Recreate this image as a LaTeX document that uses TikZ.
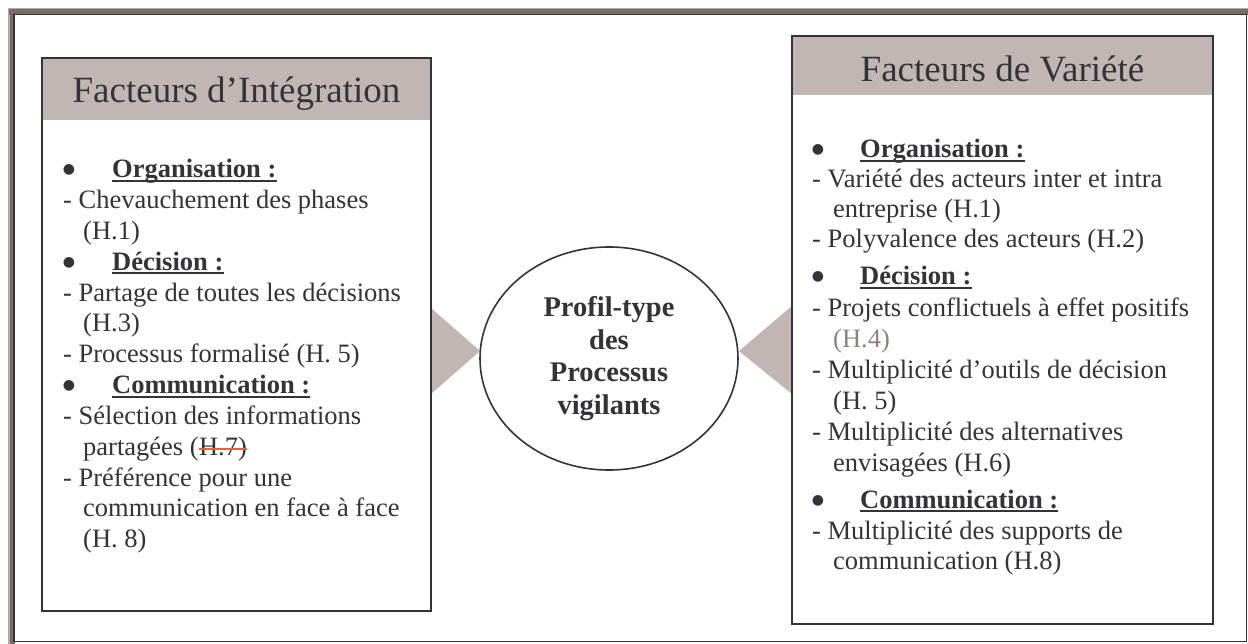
\documentclass[tikz,border=0pt]{standalone}
\usepackage{fontspec}
\setmainfont{Liberation Serif}
\newfontfamily\bulfont{DejaVu Sans}
\usetikzlibrary{shapes.geometric}
\definecolor{frameb}{HTML}{7B6B67}
\definecolor{framel}{HTML}{B5AAA7}
\definecolor{taupe}{HTML}{C1B6B3}
\definecolor{ink}{HTML}{343438}
\definecolor{hgray}{HTML}{8E8280}
\definecolor{strk}{HTML}{F0602E}
\begin{document}
\begin{tikzpicture}[x=1pt,y=-1pt,
 txt/.style={anchor=base west, inner sep=0pt, text=ink, font=\fontsize{26.5}{30.5}\selectfont},
 head/.style={anchor=base west, inner sep=0pt, text=ink, font=\fontsize{26.5}{30.5}\selectfont\bfseries},
 bul/.style={anchor=base, inner sep=0pt, text=ink, font=\bulfont\fontsize{14}{14}\selectfont, yshift=4pt},
 ul/.style={draw=ink, line width=1.8pt},
 strike/.style={draw=strk, line width=1.6pt},
 titletxt/.style={anchor=base, inner sep=0pt, text=ink, font=\fontsize{37}{40}\selectfont},
 boxframe/.style={draw=ink, line width=2.2pt, inner sep=0pt},
 hdrfill/.style={fill=taupe, inner sep=0pt},
 ell/.style={draw=ink, line width=1.6pt, ellipse, inner sep=0pt, align=center, text=ink,
   font=\fontsize{28.5}{32.7}\selectfont\bfseries},
 tri/.style={fill=taupe}
]
\useasboundingbox (0,0) rectangle (1248,644);
\fill[white] (0,0) rectangle (1248,644);
% outer frame
\fill[framel] (8,8) rectangle (1248,15);
\fill[framel] (8,8) rectangle (15,644);
\fill[frameb] (9,9.5) rectangle (1248,15);
\fill[frameb] (9.5,9) rectangle (15,644);
\draw[ink, line width=1.8pt] (14,14.5) rectangle (1246.5,641.5);

% headers
\node[hdrfill, minimum width=389pt, minimum height=62pt, anchor=north] (Lhdr) at (236.5,58) {};
\node[hdrfill, minimum width=421pt, minimum height=59pt, anchor=north] (Rhdr) at (1002.5,36) {};

% triangles
\fill[tri] (431,308) -- (480,351) -- (431,394) -- cycle;
\fill[tri] (792,306) -- (739,351) -- (792,394) -- cycle;

% boxes
\node[boxframe, minimum width=389pt, minimum height=553pt] (Lbox) at (236.5,334.5) {};
\node[boxframe, minimum width=421pt, minimum height=588pt] (Rbox) at (1002.5,330) {};

% titles
\node[titletxt] (Ltitle) at (236.5,103) {Facteurs d’Intégration};
\node[titletxt] (Rtitle) at (1002.5,82) {Facteurs de Variété};

% centre
\node[ell, minimum width=258pt, minimum height=223pt] (C) at (609,358.5)
  {Profil-type\\des\\Processus\\vigilants};

% left box content
\node[bul] (lb0) at (69,178) {●};
\node[head] (lh0) at (112,178) {Organisation :};
\draw[ul] ([yshift=-3pt]lh0.base west) -- ([yshift=-3pt]lh0.base east);
\node[txt] (l1) at (63,208.8) {- Chevauchement des phases};
\node[txt] (l2) at (83,239.6) {(H.1)};
\node[bul] (lb3) at (69,270.4) {●};
\node[head] (lh3) at (112,270.4) {Décision :};
\draw[ul] ([yshift=-3pt]lh3.base west) -- ([yshift=-3pt]lh3.base east);
\node[txt] (l4) at (63,301.2) {- Partage de toutes les décisions};
\node[txt] (l5) at (83,332) {(H.3)};
\node[txt] (l6) at (63,362.8) {- Processus formalisé (H. 5)};
\node[bul] (lb7) at (69,393.6) {●};
\node[head] (lh7) at (112,393.6) {Communication :};
\draw[ul] ([yshift=-3pt]lh7.base west) -- ([yshift=-3pt]lh7.base east);
\node[txt] (l8) at (63,424.4) {- Sélection des informations};
\node[txt] (l9) at (83,455.2) {partagées (};
\node[txt] (l9b) at (l9.base east) {H.7)};
\draw[strike] ([yshift=6pt]l9b.base west) -- ([yshift=6pt]l9b.base east);
\node[txt] (l10) at (63,486) {- Préférence pour une};
\node[txt] (l11) at (83,516.8) {communication en face à face};
\node[txt] (l12) at (83,547.6) {(H. 8)};

% right box content
\node[bul] (rb0) at (818,158) {●};
\node[head] (rh0) at (860,158) {Organisation :};
\draw[ul] ([yshift=-3pt]rh0.base west) -- ([yshift=-3pt]rh0.base east);
\node[txt] (r1) at (812,188) {- Variété des acteurs inter et intra};
\node[txt] (r2) at (833,218) {entreprise (H.1)};
\node[txt] (r3) at (812,248) {- Polyvalence des acteurs (H.2)};
\node[bul] (rb4) at (818,285) {●};
\node[head] (rh4) at (860,285) {Décision :};
\draw[ul] ([yshift=-3pt]rh4.base west) -- ([yshift=-3pt]rh4.base east);
\node[txt] (r5) at (812,316.5) {- Projets conflictuels à effet positifs};
\node[txt, text=hgray] (r6) at (833,347.5) {(H.4)};
\node[txt] (r7) at (812,378.5) {- Multiplicité d’outils de décision};
\node[txt] (r8) at (833,409.5) {(H. 5)};
\node[txt] (r9) at (812,440.5) {- Multiplicité des alternatives};
\node[txt] (r10) at (833,471.5) {envisagées (H.6)};
\node[bul] (rb11) at (818,508) {●};
\node[head] (rh11) at (860,508) {Communication :};
\draw[ul] ([yshift=-3pt]rh11.base west) -- ([yshift=-3pt]rh11.base east);
\node[txt] (r12) at (812,539) {- Multiplicité des supports de};
\node[txt] (r13) at (833,569) {communication (H.8)};
\end{tikzpicture}
\end{document}
